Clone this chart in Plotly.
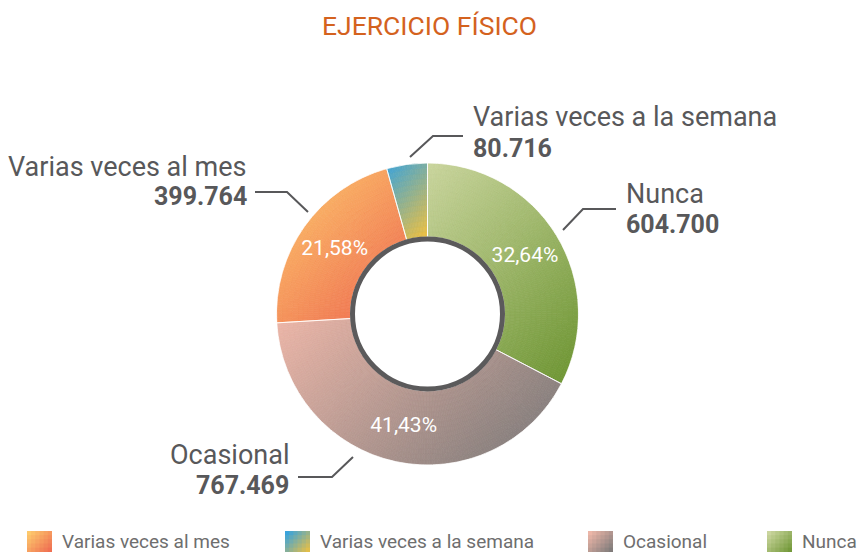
import math
import plotly.graph_objects as go

# ---- data ----
categories = ["Varias veces al mes", "Varias veces a la semana", "Ocasional", "Nunca"]
values = [399764, 80716, 767469, 604700]
value_labels = ["399.764", "80.716", "767.469", "604.700"]
show_pct = [True, False, True, True]
title_text = "EJERCICIO FÍSICO"

# ---- style: diagonal gradients (top-left -> bottom-right) ----
grad = {"Varias veces al mes": ("#FDC96C", "#EE6750"),
        "Varias veces a la semana": ("#3AA3DC", "#F3C13C"),
        "Ocasional": ("#ECB6A8", "#777777"),
        "Nunca": ("#CAD59E", "#6C9431")}
W, H = 857, 552
TXT = "#58585A"
FONT = "Roboto"
HOLE = 0.51

def hex2rgb(h):
    h = h.lstrip("#")
    return tuple(int(h[i:i + 2], 16) for i in (0, 2, 4))

def mix(c0, c1, t):
    a, b = hex2rgb(c0), hex2rgb(c1)
    return "rgb(%d,%d,%d)" % tuple(round(a[i] + (b[i] - a[i]) * t) for i in range(3))

# pie order (clockwise starting at 12 o'clock)
pie_order = [3, 2, 0, 1]
p_labels = [categories[i] for i in pie_order]
p_values = [values[i] for i in pie_order]
p_tmpl = ["%{percent:.2%}" if show_pct[i] else "" for i in pie_order]

cx, cy, R = 427.5, 314, 151

def px(x):
    return x / W

def py(y):
    return 1 - y / H

dom = dict(x=[px(cx - R), px(cx + R)], y=[py(cy + R), py(cy - R)])

# ---- gradient fill built as fine barpolar cells following the slice angles ----
total = float(sum(p_values))
th, rr, bb, ww, cc = [], [], [], [], []
NR = 14
a_start = 0.0
for lab, v in zip(p_labels, p_values):
    span = 360.0 * v / total
    a0, a1 = a_start, a_start + span
    a_start = a1
    pts = []
    for k in range(0, 201):
        a = math.radians(a0 + span * k / 200)
        for r in (HOLE, 1.0):
            pts.append((r * math.sin(a), r * math.cos(a)))
    xmin = min(p[0] for p in pts); xmax = max(p[0] for p in pts)
    ymin = min(p[1] for p in pts); ymax = max(p[1] for p in pts)
    n = max(2, int(math.ceil(span / 1.0)))
    dw = span / n
    for i in range(n):
        ac = a0 + dw * (i + 0.5)
        for j in range(NR):
            rn0 = j / NR
            rn1 = (j + 1) / NR
            rabs = HOLE + (1 - HOLE) * (rn0 + rn1) / 2
            x = rabs * math.sin(math.radians(ac))
            y = rabs * math.cos(math.radians(ac))
            t = ((x - xmin) + (ymax - y)) / ((xmax - xmin) + (ymax - ymin))
            th.append(ac); ww.append(dw); bb.append(rn0); rr.append(rn1 - rn0)
            cc.append(mix(grad[lab][0], grad[lab][1], min(1, max(0, t))))

fig = go.Figure()
fig.add_trace(go.Barpolar(theta=th, r=rr, base=bb, width=ww,
                          marker=dict(color=cc, line=dict(color=cc, width=0.8)),
                          hoverinfo="skip", showlegend=False))
fig.add_trace(go.Pie(
    labels=p_labels, values=p_values, sort=False, direction="clockwise", rotation=0,
    hole=HOLE, marker=dict(colors=["rgba(0,0,0,0)"] * 4, line=dict(color="rgba(255,255,255,0.8)", width=1)),
    texttemplate=p_tmpl, textposition="inside", insidetextorientation="horizontal",
    textfont=dict(family=FONT, size=21, color="white"),
    domain=dom, showlegend=False, hoverinfo="skip"))

shapes = []
# inner ring
r_ring = 75
shapes.append(dict(type="circle", xref="paper", yref="paper",
                   x0=px(cx - r_ring), x1=px(cx + r_ring), y0=py(cy + r_ring), y1=py(cy - r_ring),
                   line=dict(color="#5B5A5B", width=5), fillcolor="white", layer="above"))

# leader lines and labels per category
label_cfg = {
    "Varias veces al mes": dict(pts=[(255, 192), (287, 192), (308, 212)], x=249, y1=167, y2=197, anchor="right"),
    "Varias veces a la semana": dict(pts=[(410, 157), (433, 136), (463, 136)], x=471, y1=117, y2=148, anchor="left"),
    "Nunca": dict(pts=[(563, 230), (583, 209), (616, 209)], x=624, y1=194, y2=225, anchor="left"),
    "Ocasional": dict(pts=[(353, 457), (332, 477), (298, 477)], x=291, y1=455, y2=485, anchor="right"),
}
annotations = []
for cat, val in zip(categories, value_labels):
    c = label_cfg[cat]
    path = "M " + " L ".join(f"{px(a)},{py(b)}" for a, b in c["pts"])
    shapes.append(dict(type="path", xref="paper", yref="paper", path=path,
                       line=dict(color=TXT, width=2)))
    annotations.append(dict(text=cat, x=px(c["x"]), y=py(c["y1"]), xref="paper", yref="paper",
                            xanchor=c["anchor"], yanchor="middle", showarrow=False,
                            font=dict(family=FONT, size=27, color=TXT)))
    annotations.append(dict(text=f"<b>{val}</b>", x=px(c["x"]), y=py(c["y2"]), xref="paper", yref="paper",
                            xanchor=c["anchor"], yanchor="middle", showarrow=False,
                            font=dict(family=FONT, size=25, color=TXT)))

# legend (manual, to keep reference order); square shaded in small overlapping steps
legend_x = [27, 285, 588, 767]
G = 6
S = 25
for cat, lx in zip(categories, legend_x):
    for i in range(G):
        for j in range(G):
            t = (i + j) / (2 * (G - 1))
            x0 = lx + S * i / G
            x1 = min(lx + S, lx + S * (i + 1) / G + 1)
            y0 = 531 + S * j / G
            y1 = 531 + S * (j + 1) / G + 1
            shapes.append(dict(type="rect", xref="paper", yref="paper",
                               x0=px(x0), x1=px(x1), y0=py(y1), y1=py(y0),
                               fillcolor=mix(grad[cat][0], grad[cat][1], t),
                               line=dict(width=0)))
    annotations.append(dict(text=cat, x=px(lx + 33), y=py(541), xref="paper", yref="paper",
                            xanchor="left", yanchor="middle", showarrow=False,
                            font=dict(family=FONT, size=19, color="#6E6E6E")))

# title
annotations.append(dict(text=title_text, x=px(430), y=py(26), xref="paper", yref="paper",
                        xanchor="center", yanchor="middle", showarrow=False,
                        font=dict(family=FONT, size=26.5, color="#D4621E")))

fig.update_layout(width=W, height=H, margin=dict(l=0, r=0, t=0, b=0),
                  paper_bgcolor="white", plot_bgcolor="white",
                  separators=",.", shapes=shapes, annotations=annotations,
                  polar=dict(domain=dom, hole=HOLE, bgcolor="rgba(0,0,0,0)",
                             radialaxis=dict(range=[0, 1], visible=False, showgrid=False),
                             angularaxis=dict(visible=False, rotation=90, direction="clockwise",
                                              showgrid=False)),
                  bargap=0)

fig.write_html("out.html", config={"displayModeBar": False},
               post_script="document.body.style.margin='0';document.body.style.overflow='hidden';")
